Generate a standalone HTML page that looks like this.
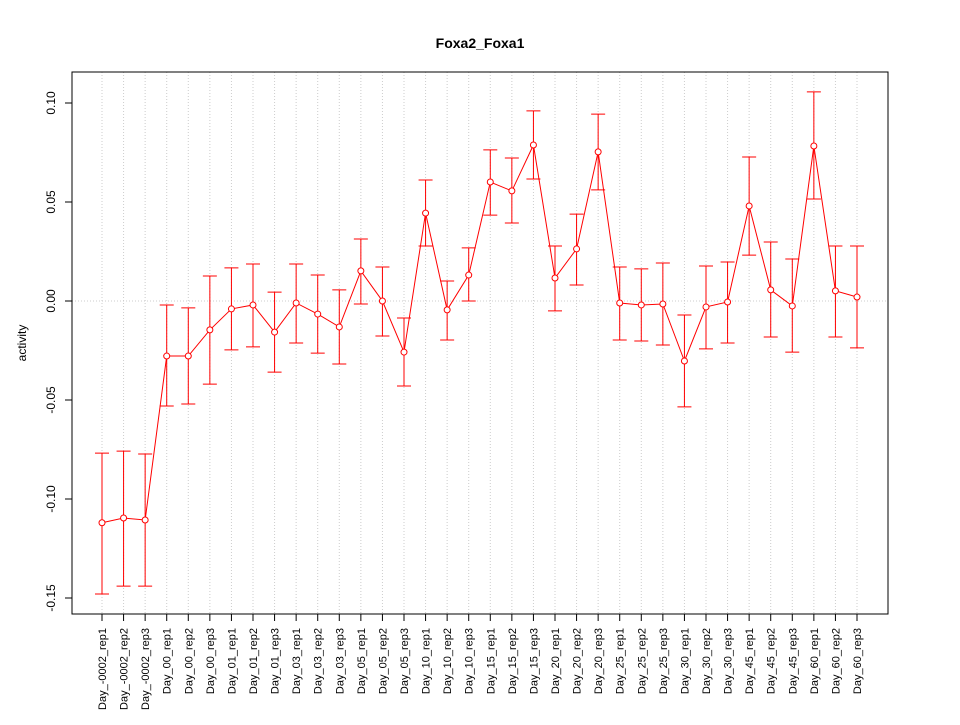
<!DOCTYPE html>
<html><head><meta charset="utf-8"><style>
body{margin:0;background:#fff;}
svg text{font-family:"Liberation Sans",Arial,sans-serif;}
</style></head><body>
<svg id="chart" width="960" height="720" xmlns="http://www.w3.org/2000/svg">
<text x="480" y="48" text-anchor="middle" font-size="14" font-weight="bold">Foxa2_Foxa1</text>
<text transform="translate(26,343) rotate(-90)" text-anchor="middle" font-size="12">activity</text>
<g id="grid"></g><g id="yaxis"></g><g id="xaxis"></g><g id="marks"></g>
<rect x="72" y="72" width="816" height="542" fill="none" stroke="#000"/>
</svg>
<script>
const categories=["Day_-0002_rep1","Day_-0002_rep2","Day_-0002_rep3","Day_00_rep1","Day_00_rep2","Day_00_rep3","Day_01_rep1","Day_01_rep2","Day_01_rep3","Day_03_rep1","Day_03_rep2","Day_03_rep3","Day_05_rep1","Day_05_rep2","Day_05_rep3","Day_10_rep1","Day_10_rep2","Day_10_rep3","Day_15_rep1","Day_15_rep2","Day_15_rep3","Day_20_rep1","Day_20_rep2","Day_20_rep3","Day_25_rep1","Day_25_rep2","Day_25_rep3","Day_30_rep1","Day_30_rep2","Day_30_rep3","Day_45_rep1","Day_45_rep2","Day_45_rep3","Day_60_rep1","Day_60_rep2","Day_60_rep3"];
const means=[-0.112,-0.1096,-0.1106,-0.0278,-0.0278,-0.0146,-0.004,-0.002,-0.0157,-0.001,-0.0066,-0.0131,0.0152,0,-0.0258,0.0444,-0.0045,0.0131,0.0601,0.0556,0.0788,0.0116,0.0263,0.0753,-0.001,-0.002,-0.0015,-0.0303,-0.003,-0.0005,0.048,0.0056,-0.0025,0.0783,0.0051,0.002];
const uppers=[-0.0768,-0.0758,-0.0773,-0.002,-0.0035,0.0126,0.0167,0.0187,0.0045,0.0187,0.0131,0.0056,0.0313,0.0172,-0.0086,0.0611,0.0101,0.0268,0.0763,0.0722,0.096,0.0278,0.0439,0.0944,0.0172,0.0162,0.0192,-0.0071,0.0177,0.0197,0.0727,0.0298,0.0212,0.1056,0.0278,0.0278];
const lowers=[-0.148,-0.144,-0.144,-0.053,-0.052,-0.042,-0.0247,-0.0232,-0.0359,-0.0212,-0.0263,-0.0318,-0.0015,-0.0177,-0.0429,0.0278,-0.0197,0,0.0434,0.0394,0.0616,-0.005,0.0081,0.0561,-0.0197,-0.0202,-0.0222,-0.0535,-0.0242,-0.0212,0.0232,-0.0182,-0.0258,0.0515,-0.0182,-0.0237];
const yTicks=[-0.15,-0.10,-0.05,0.00,0.05,0.10];
const yTickLabels=["-0.15","-0.10","-0.05","0.00","0.05","0.10"];
const NS="http://www.w3.org/2000/svg";
const yS=v=>301-v*1980;
const xS=i=>102+i*(755/(categories.length-1));
function mk(tag,attrs,parent){const e=document.createElementNS(NS,tag);for(const k in attrs)e.setAttribute(k,attrs[k]);document.getElementById(parent).appendChild(e);return e;}
categories.forEach((c,i)=>{
  const g=mk('line',{x1:xS(i),x2:xS(i),y1:72,y2:614,stroke:'#ccc','stroke-dasharray':'1,2'},'grid');
  
  
  const t=mk('line',{x1:xS(i),x2:xS(i),y1:614,y2:621,stroke:'#000'},'xaxis');
  
  
  const l=mk('text',{transform:`translate(${xS(i)+4},628) rotate(-90)`,'text-anchor':'end','font-size':'11'},'xaxis');
  l.textContent=c;
  
  
});
const zl=mk('line',{x1:72,x2:888,y1:yS(0),y2:yS(0),stroke:'#ccc','stroke-dasharray':'1,2'},'grid');


const ya=mk('line',{x1:72,x2:72,y1:yS(yTicks[0]),y2:yS(yTicks[yTicks.length-1]),stroke:'#000'},'yaxis');


yTicks.forEach((v,i)=>{
  const t=mk('line',{x1:65,x2:72,y1:yS(v),y2:yS(v),stroke:'#000'},'yaxis');
  
  
  const l=mk('text',{transform:`translate(55,${yS(v)}) rotate(-90)`,'text-anchor':'middle','font-size':'12'},'yaxis');
  l.textContent=yTickLabels[i];
  
  
});
const pts=means.map((m,i)=>`${xS(i)},${yS(m)}`).join(' ');
const line=mk('polyline',{points:pts,fill:'none',stroke:'#ff0000','stroke-width':1},'marks');


means.forEach((m,i)=>{
  const x=xS(i);
  const eb=mk('path',{d:`M${x},${yS(uppers[i])}V${yS(lowers[i])}M${x-7},${yS(uppers[i])}H${x+7}M${x-7},${yS(lowers[i])}H${x+7}`,stroke:'#ff0000',fill:'none'},'marks');
  
  
  const p=mk('circle',{cx:x,cy:yS(m),r:3,fill:'#fff',stroke:'#ff0000'},'marks');
  
  
});
</script>
</body></html>
